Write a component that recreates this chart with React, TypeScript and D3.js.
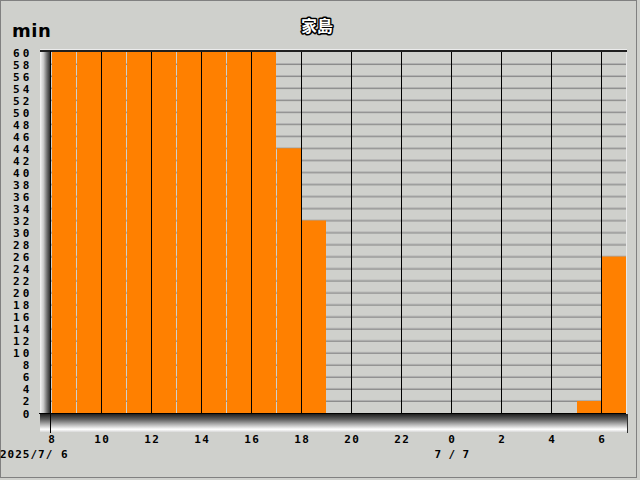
import React from "react";
import * as d3 from "d3";

const hours = [8, 9, 10, 11, 12, 13, 14, 15, 16, 17, 18, 19, 20, 21, 22, 23, 0, 1, 2, 3, 4, 5, 6];
const values = [60, 60, 60, 60, 60, 60, 60, 60, 60, 44, 32, 0, 0, 0, 0, 0, 0, 0, 0, 0, 0, 2, 26];
const yTicks = d3.range(0, 61, 2);
const title = "家島";
const unit = "min";
const date1 = "2025/7/ 6";
const date2 = "7 / 7";

const W = 640;
const H = 480;
const BG = "#cfd0cc";
const ORANGE = "#ff8000";

export default function App() {
  const x = d3.scaleLinear().domain([0, hours.length]).range([51, 626]);
  const y = d3.scaleLinear().domain([0, 60]).range([413, 52]);
  const mono = "'DejaVu Sans Mono', monospace";

  return (
    <svg width={W} height={H} style={{ position: "fixed", left: 0, top: 0 }}>
      <defs>
        <linearGradient id="lw" x1="0" x2="1" y1="0" y2="0">
          <stop offset="0" stopColor="#f6f6f6" />
          <stop offset="0.35" stopColor="#c8c8c8" />
          <stop offset="0.7" stopColor="#707070" />
          <stop offset="1" stopColor="#303030" />
        </linearGradient>
        <linearGradient id="bw" x1="0" x2="0" y1="0" y2="1">
          <stop offset="0" stopColor="#202020" />
          <stop offset="0.3" stopColor="#606060" />
          <stop offset="0.6" stopColor="#b8b8b8" />
          <stop offset="0.85" stopColor="#ffffff" />
          <stop offset="1" stopColor="#d8d8d8" />
        </linearGradient>
      </defs>
      <rect x={0} y={0} width={W} height={H} fill={BG} />
      <rect x={0.5} y={0.5} width={636} height={477} fill="none" stroke="#808080" />

      {/* 3D well */}
      <rect x={40} y={51} width={10} height={365} fill="url(#lw)" />
      <rect x={40} y={414} width={587} height={18} fill="url(#bw)" />
      <line x1={40} x2={627} y1={49.5} y2={49.5} stroke="#ececec" />
      <rect x={40} y={50} width={587} height={2} fill="#202020" />
      <line x1={626.5} x2={626.5} y1={52} y2={414} stroke="#e8e8e8" />
      <line x1={627.5} x2={627.5} y1={414} y2={433} stroke="#303030" />

      {/* horizontal grid */}
      {yTicks.filter((v) => v > 0 && v < 60).map((v) => (
        <g key={"g" + v}>
          <line x1={51} x2={626} y1={y(v) - 0.5} y2={y(v) - 0.5} stroke="#b0b0b0" />
          <line x1={51} x2={626} y1={y(v) + 0.5} y2={y(v) + 0.5} stroke="#8a8a8a" />
        </g>
      ))}

      {/* bars */}
      {values.map((v, i) =>
        v > 0 ? (
          <rect key={"b" + i} x={x(i) + 1} y={y(v)} width={x(i + 1) - x(i) - 1} height={y(0) - y(v)} fill={ORANGE} />
        ) : null
      )}

      {/* vertical grid at even hours */}
      {hours.map((h, i) =>
        h % 2 === 0 && i > 0 ? (
          <line key={"v" + i} x1={x(i) + 0.5} x2={x(i) + 0.5} y1={52} y2={414} stroke="#000" />
        ) : null
      )}

      {/* axes */}
      <line x1={50.5} x2={50.5} y1={51} y2={433} stroke="#000" />
      <line x1={39} x2={626} y1={413.5} y2={413.5} stroke="#000" />

      {/* y labels */}
      {yTicks.map((v) => {
        const chars = String(v).split("");
        return chars.map((c, k) => {
          const cx = 26 - (chars.length - 1 - k) * 9.8;
          return (
            <text key={"y" + v + "_" + k} x={cx} y={y(v) + 4.5} textAnchor="middle" fontFamily={mono}
              fontWeight="bold" fontSize={11} fill="#000">{c}</text>
          );
        });
      })}

      {/* x labels */}
      {hours.map((h, i) =>
        h % 2 === 0 ? (
          <text key={"x" + i} x={x(i) + 0.5} y={443} textAnchor="middle" fontFamily={mono} fontWeight="bold"
            fontSize={11} letterSpacing={1.4} dx={0.7} fill="#000">{String(h)}</text>
        ) : null
      )}
      <text x={0} y={457.5} fontFamily={mono} fontWeight="bold" fontSize={11} letterSpacing={1} fill="#000"
        style={{ whiteSpace: "pre" }}>{date1}</text>
      <text x={x(hours.indexOf(0)) + 1} y={457.5} textAnchor="middle" fontFamily={mono} fontWeight="bold" fontSize={11}
        letterSpacing={0.4} fill="#000" style={{ whiteSpace: "pre" }}>{date2}</text>

      {/* unit & title */}
      <text x={12} y={37} fontFamily="'DejaVu Sans', sans-serif" fontWeight="bold" fontSize={18} letterSpacing={0.5} fill="#000">{unit}</text>
      <text x={317} y={31.5} textAnchor="middle" fontFamily="'Noto Sans CJK JP', sans-serif" fontWeight="bold"
        fontSize={16} fill="#fff" stroke="#000" strokeWidth={3} strokeLinejoin="round"
        style={{ paintOrder: "stroke" }}>{title}</text>
    </svg>
  );
}
